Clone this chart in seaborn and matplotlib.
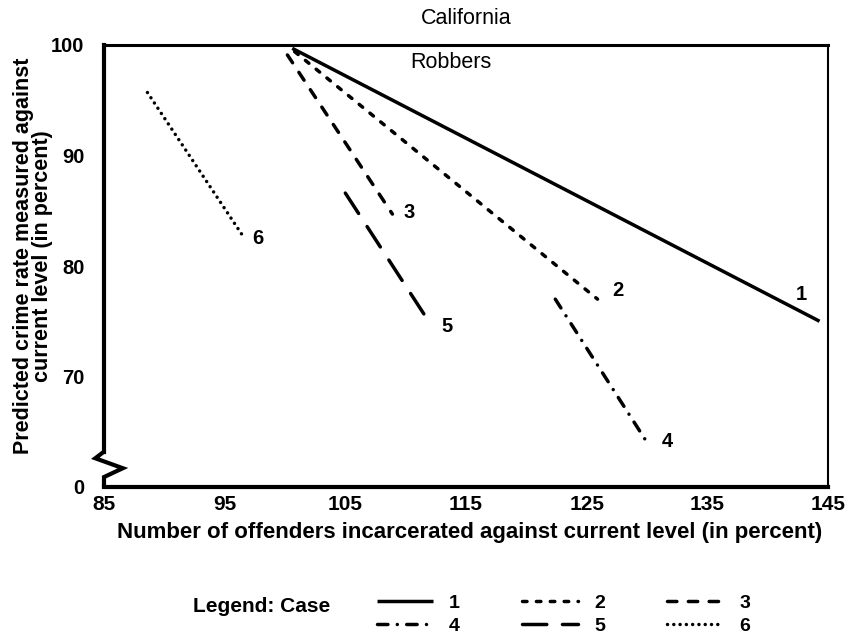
import numpy as np
import pandas as pd
import matplotlib
matplotlib.use("Agg")
import matplotlib.pyplot as plt
import matplotlib.transforms as mtransforms
from matplotlib.lines import Line2D
import seaborn as sns

# ---------------- data ----------------
cases = ["1", "2", "3", "4", "5", "6"]
x_start = [100.6, 100.8, 100.2, 122.4, 105.0, 88.6]
y_start = [99.7, 99.4, 99.1, 77.0, 86.6, 95.7]
x_end = [144.3, 125.9, 108.9, 130.2, 112.2, 96.4]
y_end = [75.0, 77.0, 84.7, 63.7, 74.5, 82.9]

x_ticks = [85, 95, 105, 115, 125, 135, 145]
y_ticks = [60, 70, 80, 90, 100]
y_tick_labels = ["0", "70", "80", "90", "100"]

title = "California"
subtitle = "Robbers"
x_label = "Number of offenders incarcerated against current level (in percent)"
y_label = "Predicted crime rate measured against\ncurrent level (in percent)"

# ---------------- styling ----------------
sns.set_theme(style="white")
FONT = ["Liberation Sans", "DejaVu Sans"]
plt.rcParams["font.family"] = FONT
plt.rcParams["text.color"] = "black"
plt.rcParams["axes.labelcolor"] = "black"
plt.rcParams["xtick.color"] = "black"
plt.rcParams["ytick.color"] = "black"
plt.rcParams["lines.dash_capstyle"] = "round"
plt.rcParams["lines.solid_capstyle"] = "butt"

LW = 2.5
dash_map = {
    "1": "",
    "2": (1.3, 2.7),
    "3": (2.7, 3.3),
    "4": (3.0, 2.7, 0.01, 2.7),
    "5": (7.0, 4.5),
    "6": (0.01, 1.8),
}
label_offsets = {  # in points, relative to line end
    "1": (-13, 19),
    "2": (15, 6),
    "3": (12, 1),
    "4": (13, 3),
    "5": (11, 0),
    "6": (12, -3),
}

df = pd.DataFrame({
    "case": cases + cases,
    "x": x_start + x_end,
    "y": y_start + y_end,
})

fig = plt.figure(figsize=(8.48, 6.44), dpi=100)
ax = fig.add_axes([104 / 848, 1 - 487 / 644, 724 / 848, 442 / 644])

sns.lineplot(data=df, x="x", y="y", style="case", style_order=cases,
             dashes=dash_map, color="black", linewidth=LW,
             estimator=None, sort=False, legend=False, ax=ax)

ax.set_xlim(85, 145)
ax.set_ylim(60, 100)
ax.tick_params(axis="x", direction="in", length=13, width=1.3, pad=6)
ax.tick_params(axis="y", direction="in", length=11, width=2.0, pad=14)
ax.set_xticks(x_ticks)
ax.set_xticklabels([str(t) for t in x_ticks], fontsize=15, fontweight="bold")
ax.set_yticks(y_ticks)
ax.set_yticklabels(y_tick_labels, fontsize=14.5, fontweight="bold")

for side, w in [("left", 3.0), ("bottom", 3.0), ("top", 2.2), ("right", 1.5)]:
    ax.spines[side].set_visible(True)
    ax.spines[side].set_color("black")
    ax.spines[side].set_linewidth(w)

# axis break on the y axis
ax.spines["left"].set_bounds(63.2, 100)
trans = mtransforms.blended_transform_factory(ax.transAxes, ax.transData)
ax.add_line(Line2D([0, -0.012, 0.026, 0, 0], [63.2, 62.6, 61.7, 60.9, 60],
                   transform=trans, color="black", linewidth=3.0,
                   solid_joinstyle="miter", clip_on=False))

# case labels at line ends
for c, xe, ye in zip(cases, x_end, y_end):
    ax.annotate(c, (xe, ye), xytext=label_offsets[c], textcoords="offset points",
                ha="center", va="center", fontsize=14.5, fontweight="bold")

ax.text((410 - 104) / 724, 0.9615, subtitle, transform=ax.transAxes,
        ha="left", va="center", fontsize=15.5)
fig.text(466 / 848, 1 - 18 / 644, title, ha="center", va="center", fontsize=15.5)

ax.set_xlabel(x_label, fontsize=16, fontweight="bold")
ax.xaxis.set_label_coords(0.5055, -0.079)
ax.set_ylabel(y_label, fontsize=15.5, fontweight="bold", linespacing=0.85)
ax.yaxis.set_label_coords(-0.071, 0.523)

# legend
fig.text(193 / 848, 1 - 607 / 644, "Legend: Case", ha="left", va="center",
         fontsize=15, fontweight="bold")
handles = {c: Line2D([], [], color="black", linewidth=LW,
                     dashes=(dash_map[c] if dash_map[c] else (None, None)))
           for c in cases}
order = ["1", "4", "2", "5", "3", "6"]
fig.legend([handles[c] for c in order], order, ncol=3, loc="upper left",
           bbox_to_anchor=(377 / 848, 1 - 594 / 644), frameon=False,
           handlelength=2.9, handletextpad=0.8, columnspacing=3.2,
           labelspacing=0.3, borderpad=0, borderaxespad=0,
           prop=dict(size=14, weight="bold", family=FONT))

fig.savefig("out.png", dpi=100, facecolor="white")
